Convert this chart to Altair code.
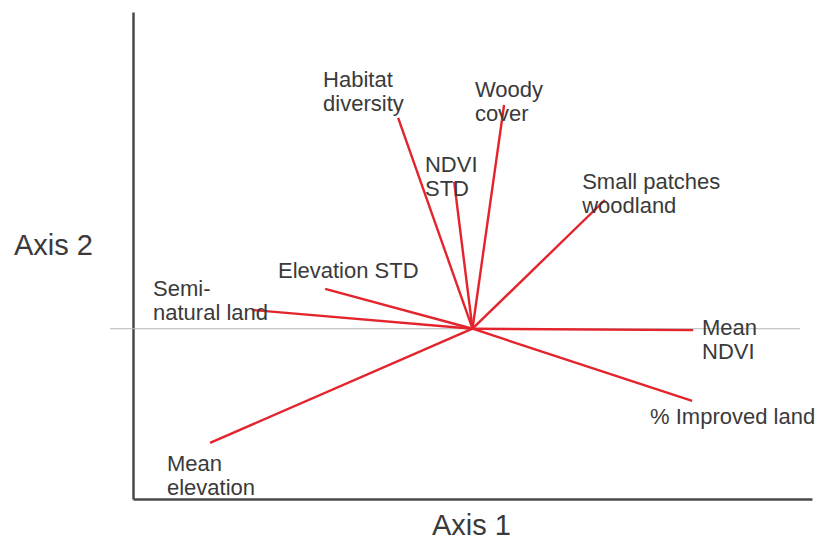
import altair as alt
import pandas as pd

# Variable names (biplot loadings)
variables = [
    "Habitat\ndiversity",
    "Woody\ncover",
    "NDVI\nSTD",
    "Small patches\nwoodland",
    "Mean\nNDVI",
    "% Improved land",
    "Elevation STD",
    "Semi-\nnatural land",
    "Mean\nelevation",
]
# Loadings on Axis 1 and Axis 2
axis1 = [-0.219, 0.093, -0.054, 0.390, 0.650, 0.647, -0.434, -0.647, -0.773]
axis2 = [0.619, 0.657, 0.431, 0.378, -0.004, -0.212, 0.117, 0.055, -0.335]
# Label anchor points (data units)
label_x = [-0.440, 0.007, -0.140, 0.323, 0.676, 0.523, -0.573, -0.941, -0.900]
label_y = [0.730, 0.701, 0.481, 0.432, 0.001, -0.259, 0.170, 0.118, -0.397]
# Horizontal reference line extent (data units)
ref_x = [-1.068, 0.965]

FONT = "Liberation Sans"
RED = "#e4242c"
TXT = "#3a3a3a"

vec = pd.DataFrame({"name": variables, "x": axis1, "y": axis2,
                    "ox": [0.0] * len(variables), "oy": [0.0] * len(variables)})
lab = pd.DataFrame({"name": variables, "lx": label_x, "ly": label_y})
ref = pd.DataFrame({"x": [ref_x[0]], "x2": [ref_x[1]], "y": [0.0]})

xscale = alt.Scale(domain=[-1.0, 1.0], nice=False, zero=False)
yscale = alt.Scale(domain=[-0.5, 0.93], nice=False, zero=False)

xaxis = alt.Axis(title="Axis 1", labels=False, ticks=False, grid=False,
                 domainColor="#4a4a4a", domainWidth=2.5,
                 titleFont=FONT, titleFontSize=29, titleFontWeight="normal",
                 titleColor=TXT, titleX=338, titleY=26,
                 titleAlign="center", titleBaseline="middle")
yaxis = alt.Axis(title="Axis 2", labels=False, ticks=False, grid=False,
                 domainColor="#4a4a4a", domainWidth=2.5,
                 titleFont=FONT, titleFontSize=29, titleFontWeight="normal",
                 titleColor=TXT, titleAngle=0, titleX=-80, titleY=233,
                 titleAlign="center", titleBaseline="middle")

refline = alt.Chart(ref).mark_rule(color="#b8b8b8", strokeWidth=1).encode(
    x=alt.X("x:Q", scale=xscale, axis=xaxis),
    x2="x2:Q",
    y=alt.Y("y:Q", scale=yscale, axis=yaxis),
)

vectors = alt.Chart(vec).mark_rule(color=RED, strokeWidth=2.4).encode(
    x=alt.X("ox:Q", scale=xscale, axis=xaxis),
    y=alt.Y("oy:Q", scale=yscale, axis=yaxis),
    x2="x:Q",
    y2="y:Q",
)

labels = alt.Chart(lab).mark_text(
    align="left", baseline="middle", font=FONT, fontSize=22,
    lineHeight=24, lineBreak="\n", color=TXT,
).encode(
    x=alt.X("lx:Q", scale=xscale, axis=xaxis),
    y=alt.Y("ly:Q", scale=yscale, axis=yaxis),
    text="name:N",
)

chart = alt.layer(refline, vectors, labels).properties(
    width=679, height=487,
    autosize=alt.AutoSizeParams(type="none"),
    padding={"left": 125, "top": 4, "right": 4, "bottom": 40},
).configure(background="white", view=alt.ViewConfig(stroke=None))

chart.save("out.html", embed_options={"renderer": "svg", "actions": False})
